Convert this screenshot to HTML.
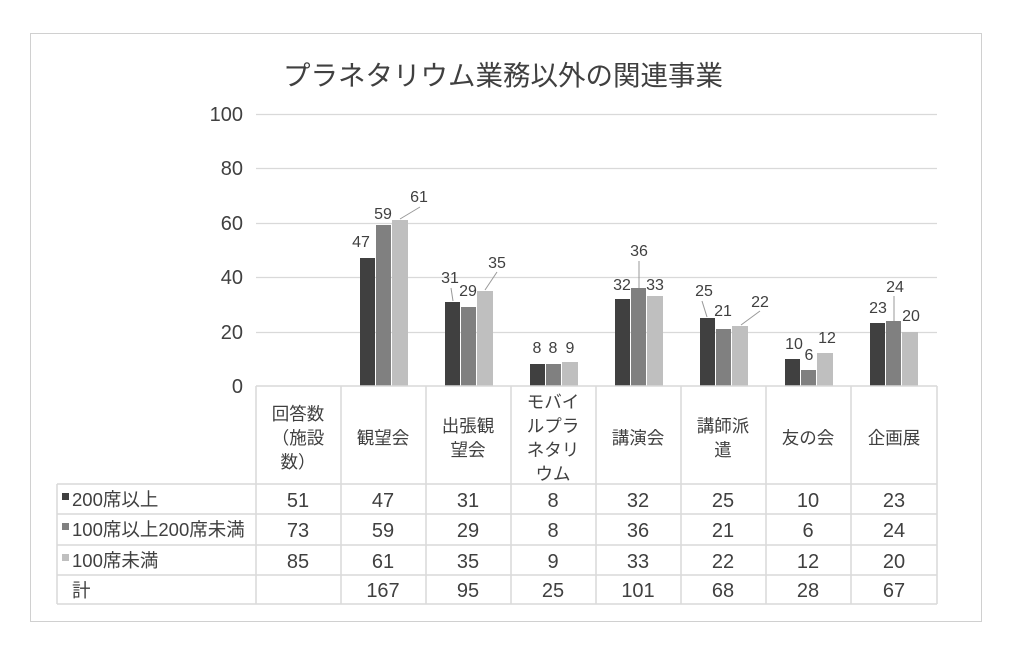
<!DOCTYPE html>
<html><head><meta charset="utf-8"><style>
body{margin:0;background:#fff}
svg{display:block}
text{font-family:"Liberation Sans","Noto Sans CJK JP",sans-serif;fill:#404040}
</style></head><body>
<svg width="1024" height="666" viewBox="0 0 1024 666" xmlns="http://www.w3.org/2000/svg">
<rect x="30.5" y="33.5" width="951" height="588" fill="#fff" stroke="#d0d0d0"/>
<text x="503" y="85" font-size="27.5" text-anchor="middle" fill="#555">プラネタリウム業務以外の関連事業</text>
<g stroke="#d9d9d9" stroke-width="1.2">
<line x1="256" x2="937" y1="114.5" y2="114.5"/>
<line x1="256" x2="937" y1="168.5" y2="168.5"/>
<line x1="256" x2="937" y1="223.5" y2="223.5"/>
<line x1="256" x2="937" y1="277.5" y2="277.5"/>
<line x1="256" x2="937" y1="332.5" y2="332.5"/>
</g>
<g font-size="20" text-anchor="end" fill="#595959">
<text x="243" y="121">100</text><text x="243" y="175">80</text><text x="243" y="230">60</text>
<text x="243" y="284">40</text><text x="243" y="339">20</text><text x="243" y="393">0</text>
</g>
<g>
<rect x="360" y="258" width="15" height="128" fill="#404040"/><rect x="376" y="225" width="15" height="161" fill="#808080"/><rect x="392" y="220" width="16" height="166" fill="#bfbfbf"/>
<rect x="445" y="302" width="15" height="84" fill="#404040"/><rect x="461" y="307" width="15" height="79" fill="#808080"/><rect x="477" y="291" width="16" height="95" fill="#bfbfbf"/>
<rect x="530" y="364" width="15" height="22" fill="#404040"/><rect x="546" y="364" width="15" height="22" fill="#808080"/><rect x="562" y="362" width="16" height="24" fill="#bfbfbf"/>
<rect x="615" y="299" width="15" height="87" fill="#404040"/><rect x="631" y="288" width="15" height="98" fill="#808080"/><rect x="647" y="296" width="16" height="90" fill="#bfbfbf"/>
<rect x="700" y="318" width="15" height="68" fill="#404040"/><rect x="716" y="329" width="15" height="57" fill="#808080"/><rect x="732" y="326" width="16" height="60" fill="#bfbfbf"/>
<rect x="785" y="359" width="15" height="27" fill="#404040"/><rect x="801" y="370" width="15" height="16" fill="#808080"/><rect x="817" y="353" width="16" height="33" fill="#bfbfbf"/>
<rect x="870" y="323" width="15" height="63" fill="#404040"/><rect x="886" y="321" width="15" height="65" fill="#808080"/><rect x="902" y="332" width="16" height="54" fill="#bfbfbf"/>
</g>
<g stroke="#999" stroke-width="1">
<line x1="400" y1="219" x2="420" y2="207"/><line x1="451" y1="288" x2="453" y2="301"/><line x1="485" y1="290" x2="497" y2="272"/>
<line x1="639" y1="261" x2="639" y2="288"/><line x1="702" y1="301" x2="707" y2="317"/><line x1="741" y1="325" x2="760" y2="311"/>
<line x1="894" y1="296" x2="894" y2="321"/>
</g>
<g font-size="16" text-anchor="middle">
<text x="361" y="247">47</text><text x="383" y="219">59</text><text x="419" y="202">61</text>
<text x="450" y="283">31</text><text x="468" y="296">29</text><text x="497" y="268">35</text>
<text x="537" y="353">8</text><text x="553" y="353">8</text><text x="570" y="353">9</text>
<text x="622" y="290">32</text><text x="639" y="256">36</text><text x="655" y="290">33</text>
<text x="704" y="296">25</text><text x="723" y="316">21</text><text x="760" y="307">22</text>
<text x="794" y="349">10</text><text x="809" y="360">6</text><text x="827" y="343">12</text>
<text x="878" y="313">23</text><text x="895" y="292">24</text><text x="911" y="321">20</text>
</g>
<g stroke="#d9d9d9" stroke-width="1.5" fill="none">
<line x1="256" y1="386" x2="937" y2="386"/>
<line x1="57" y1="484" x2="937" y2="484"/><line x1="57" y1="514" x2="937" y2="514"/>
<line x1="57" y1="545" x2="937" y2="545"/><line x1="57" y1="575" x2="937" y2="575"/>
<line x1="57" y1="604" x2="937" y2="604"/>
<line x1="57" y1="484" x2="57" y2="604"/>
<line x1="256" y1="386" x2="256" y2="604"/><line x1="341" y1="386" x2="341" y2="604"/>
<line x1="426" y1="386" x2="426" y2="604"/><line x1="511" y1="386" x2="511" y2="604"/>
<line x1="596" y1="386" x2="596" y2="604"/><line x1="681" y1="386" x2="681" y2="604"/>
<line x1="766" y1="386" x2="766" y2="604"/><line x1="851" y1="386" x2="851" y2="604"/>
<line x1="937" y1="386" x2="937" y2="604"/>
</g>
<g font-size="17.5" text-anchor="middle">
<text x="298" y="420">回答数</text><text x="298" y="444">（施設</text><text x="298" y="468">数）</text>
<text x="383" y="444">観望会</text>
<text x="468" y="432">出張観</text><text x="468" y="456">望会</text>
<text x="553" y="408">モバイ</text><text x="553" y="432">ルプラ</text><text x="553" y="456">ネタリ</text><text x="553" y="480">ウム</text>
<text x="638" y="444">講演会</text>
<text x="723" y="432">講師派</text><text x="723" y="456">遣</text>
<text x="808" y="444">友の会</text>
<text x="894" y="444">企画展</text>
</g>
<rect x="62" y="493" width="7" height="7" fill="#404040"/>
<rect x="62" y="523" width="7" height="7" fill="#808080"/>
<rect x="62" y="554" width="7" height="7" fill="#bfbfbf"/>
<g font-size="18.5">
<text x="72" y="506">200席以上</text><text x="72" y="536">100席以上200席未満</text>
<text x="72" y="567">100席未満</text><text x="72" y="597">計</text>
</g>
<g font-size="20" text-anchor="middle">
<text x="298" y="507">51</text><text x="383" y="507">47</text><text x="468" y="507">31</text><text x="553" y="507">8</text><text x="638" y="507">32</text><text x="723" y="507">25</text><text x="808" y="507">10</text><text x="894" y="507">23</text>
<text x="298" y="537">73</text><text x="383" y="537">59</text><text x="468" y="537">29</text><text x="553" y="537">8</text><text x="638" y="537">36</text><text x="723" y="537">21</text><text x="808" y="537">6</text><text x="894" y="537">24</text>
<text x="298" y="568">85</text><text x="383" y="568">61</text><text x="468" y="568">35</text><text x="553" y="568">9</text><text x="638" y="568">33</text><text x="723" y="568">22</text><text x="808" y="568">12</text><text x="894" y="568">20</text>
<text x="383" y="597">167</text><text x="468" y="597">95</text><text x="553" y="597">25</text><text x="638" y="597">101</text><text x="723" y="597">68</text><text x="808" y="597">28</text><text x="894" y="597">67</text>
</g>
</svg>
</body></html>
